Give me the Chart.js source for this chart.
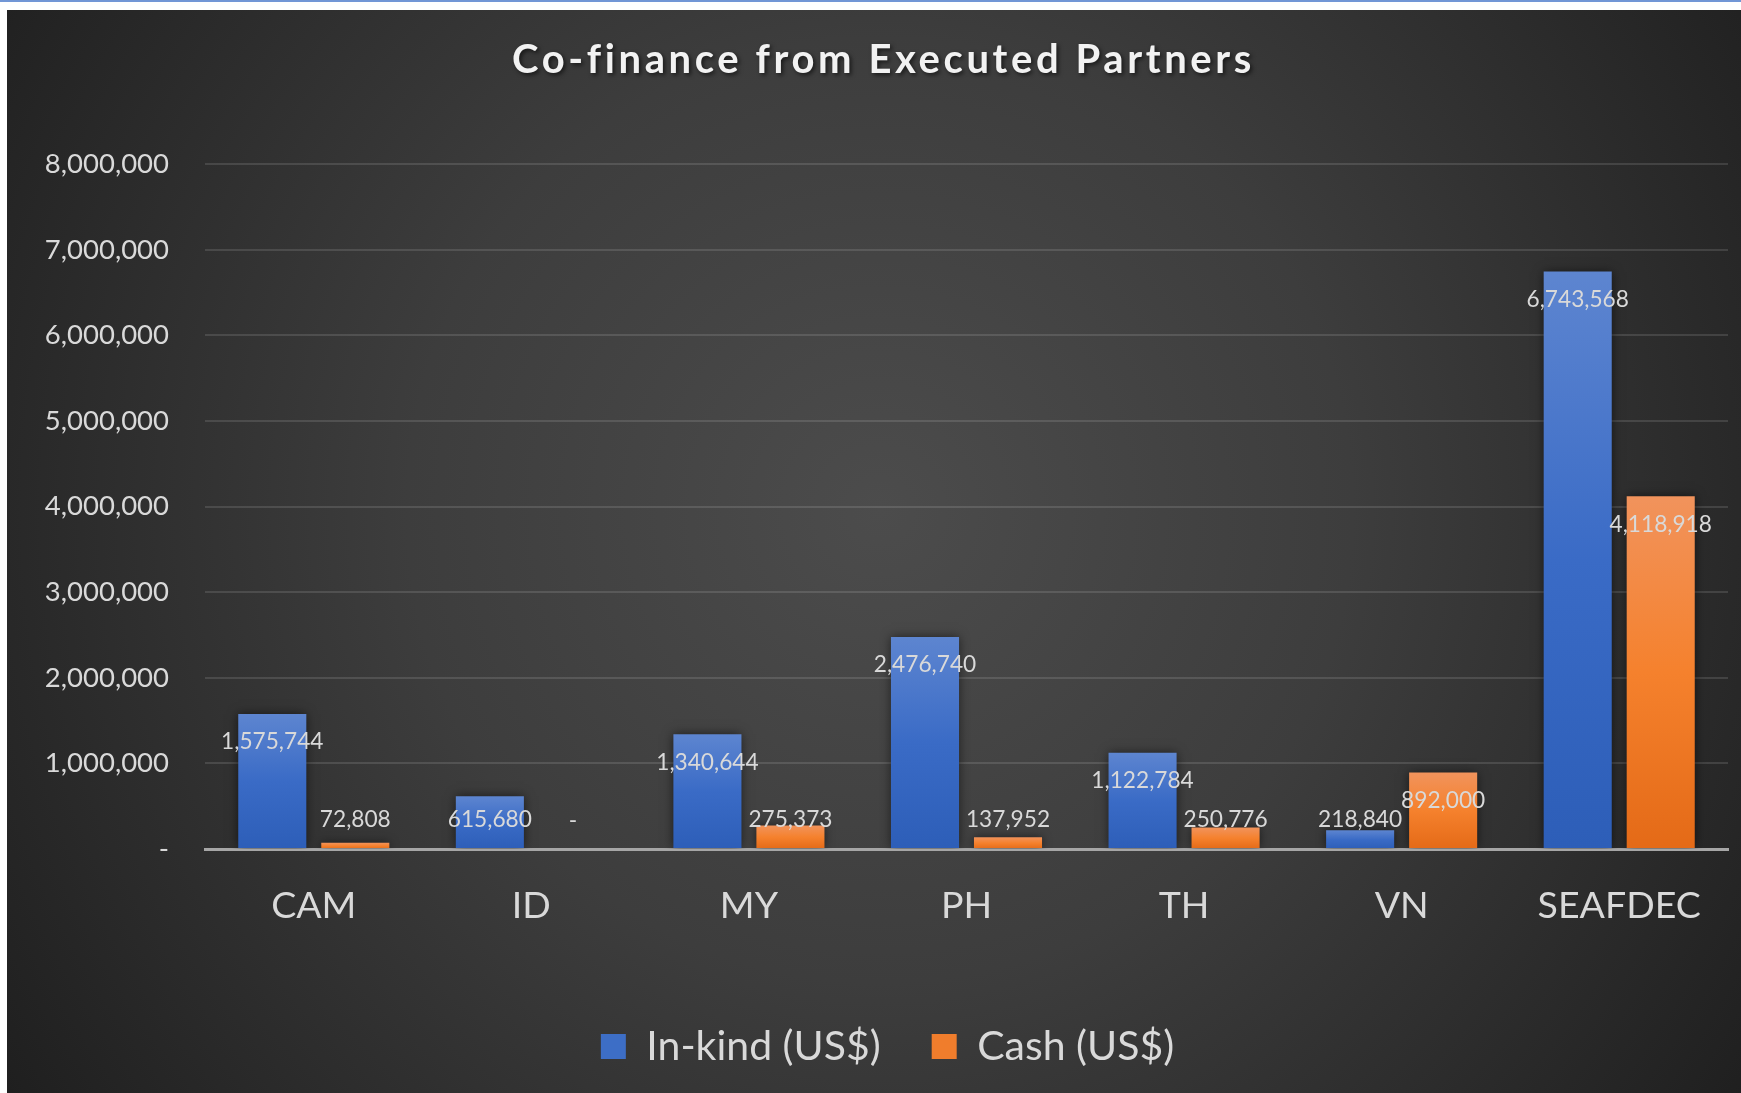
<!DOCTYPE html>
<html><head><meta charset="utf-8">
<script src="https://cdn.jsdelivr.net/npm/chart.js@4.4.1/dist/chart.umd.min.js"></script>
<style>
html,body{margin:0;padding:0;background:#fff;width:1741px;height:1093px;overflow:hidden}
#topline{position:absolute;left:0;top:0;width:1741px;height:2px;background:#7196d6}
#frame{position:absolute;left:7px;top:10px;width:1734px;height:1083px;
 background:radial-gradient(circle farthest-corner at 873px 500px,#4c4c4c 0%,#3d3d3d 45%,#1f1f1f 100%)}
#c{width:1734px;height:1083px}
</style></head><body>
<div id="topline"></div>
<div id="frame"><canvas id="c"></canvas></div>
<script>
const categories = ['CAM','ID','MY','PH','TH','VN','SEAFDEC'];
const inKindValues = [1575744, 615680, 1340644, 2476740, 1122784, 218840, 6743568];
const cashValues = [72808, 0, 275373, 137952, 250776, 892000, 4118918];
const seriesNames = ['In-kind (US$)', 'Cash (US$)'];
const chartTitle = 'Co-finance from Executed Partners';
const yMin = 0, yMax = 8000000, yStep = 1000000;

const FONT = 'Lato, "Noto Sans", sans-serif';
const fmt = v => v === 0 ? '-' : v.toLocaleString('en-US');

function barGradient(stops, fallback) {
  return (ctx) => {
    const chart = ctx.chart;
    const ys = chart.scales && chart.scales.y;
    if (!ys || ctx.type !== 'data' || !chart.chartArea) return fallback;
    const top = ys.getPixelForValue(ctx.raw);
    const base = ys.getPixelForValue(0);
    if (!isFinite(top) || Math.abs(base - top) < 1) return fallback;
    const g = chart.ctx.createLinearGradient(0, top, 0, base);
    stops.forEach(s => g.addColorStop(s[0], s[1]));
    return g;
  };
}
const blueStops = [[0,'#5d85d0'],[0.5,'#3a6bc6'],[1,'#2d5eb8']];
const orangeStops = [[0,'#f1935c'],[0.5,'#f5812d'],[1,'#e46a17']];

const shadowPlugin = {
  id: 'barShadow',
  beforeDatasetsDraw(chart) {
    const c = chart.ctx; c.save();
    c.shadowColor = 'rgba(0,0,0,0.55)'; c.shadowBlur = 10; c.shadowOffsetX = 0; c.shadowOffsetY = 0;
  },
  afterDatasetsDraw(chart) { chart.ctx.restore(); }
};

const labelPlugin = {
  id: 'valueLabels',
  afterDatasetsDraw(chart) {
    const c = chart.ctx;
    c.save();
    c.font = '22.7px ' + FONT;
    c.fillStyle = '#d9d9d9';
    c.textAlign = 'center';
    c.textBaseline = 'middle';
    chart.data.datasets.forEach((ds, di) => {
      chart.getDatasetMeta(di).data.forEach((el, i) => {
        const v = ds.data[i];
        const y = Math.min(el.y + 28, el.base - 28);
        c.fillText(fmt(v), el.x, y);
      });
    });
    c.restore();
  }
};

const chart = new Chart(document.getElementById('c'), {
  type: 'bar',
  data: {
    labels: categories,
    datasets: [
      { label: seriesNames[0], data: inKindValues,
        backgroundColor: barGradient(blueStops, '#4472c4') },
      { label: seriesNames[1], data: cashValues,
        backgroundColor: barGradient(orangeStops, '#ed7d31') }
    ]
  },
  options: {
    responsive: true,
    maintainAspectRatio: false,
    animation: false,
    categoryPercentage: 0.763,
    barPercentage: 0.82,
    layout: { padding: { left: 0, right: 13, top: 0, bottom: 16 } },
    plugins: {
      title: { display: true, text: chartTitle, color: '#f2f2f2',
        font: { family: FONT, size: 40, weight: 'bold' },
        padding: { top: 26, bottom: 80 } },
      legend: { position: 'bottom',
        labels: { color: '#d9d9d9', font: { family: FONT, size: 41 },
          boxWidth: 25, boxHeight: 25, padding: 51,
          generateLabels(chart) {
            return chart.data.datasets.map((ds, i) => ({
              text: ds.label, fillStyle: i === 0 ? '#3d6ec6' : '#f07d2c',
              strokeStyle: 'rgba(0,0,0,0)', lineWidth: 0, datasetIndex: i, fontColor: '#d9d9d9'
            }));
          } } },
      tooltip: { enabled: false }
    },
    scales: {
      x: {
        grid: { display: false, drawTicks: false },
        border: { display: true, color: '#a6a6a6', width: 3 },
        ticks: { color: '#d9d9d9', font: { family: FONT, size: 37.5 }, padding: 34 },
        afterFit(s) { s.height = 126; }
      },
      y: {
        min: yMin, max: yMax,
        grid: { color: 'rgba(255,255,255,0.12)', lineWidth: 2, drawTicks: false },
        border: { display: false },
        ticks: { stepSize: yStep, color: '#d9d9d9', font: { family: FONT, size: 27.5 }, padding: 36,
          callback: v => fmt(v) },
        afterFit(s) { s.width = 198; }
      }
    }
  },
  plugins: [shadowPlugin, labelPlugin]
});

// Title with letter spacing and a soft shadow, like the original
const tb = chart.titleBlock;
if (tb) {
  const origDraw = tb.draw;
  tb.draw = function () {
    const c = this.ctx;
    c.save();
    c.letterSpacing = '3.6px';
    c.shadowColor = 'rgba(0,0,0,0.6)';
    c.shadowBlur = 4; c.shadowOffsetX = 2; c.shadowOffsetY = 2;
    c.translate(16, 0);
    origDraw.apply(this, arguments);
    c.restore();
  };
}
const lg = chart.legend;
if (lg) {
  const origLegendDraw = lg.draw;
  lg.draw = function () {
    const c = this.ctx;
    c.save();
    c.translate(20, 0);
    origLegendDraw.apply(this, arguments);
    c.restore();
  };
}
chart.draw();
</script>
</body></html>
